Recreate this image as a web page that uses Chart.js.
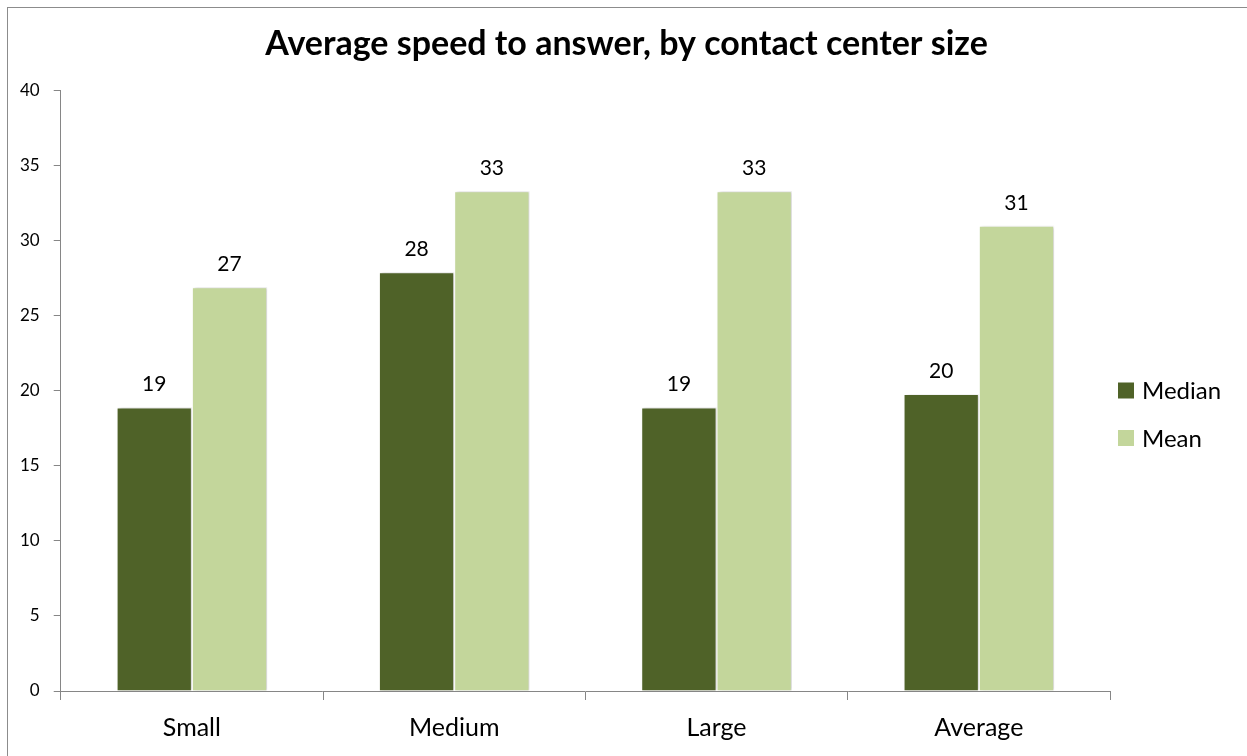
<!DOCTYPE html>
<html>
<head>
<meta charset="utf-8">
<script src="https://cdn.jsdelivr.net/npm/chart.js@4.4.0/dist/chart.umd.min.js"></script>
<style>
  html, body { margin: 0; padding: 0; background: #fff; }
  #wrap { width: 1247px; height: 756px; position: relative; }
</style>
</head>
<body>
<div id="wrap"><canvas id="myChart"></canvas></div>
<script>
// chart data
var categories = ['Small', 'Medium', 'Large', 'Average'];
var seriesNames = ['Median', 'Mean'];
var medianValues = [18.9, 27.9, 18.9, 19.8];
var meanValues = [26.9, 33.3, 33.3, 31.0];
var seriesColors = ['#4F6228', '#C3D69B'];
var chartTitle = 'Average speed to answer, by contact center size';

// white background + grey frame (left and top edges show)
var framePlugin = {
   id: 'frame',
   beforeDraw: function(chart){
      var ctx = chart.ctx;
      ctx.save();
      ctx.fillStyle = '#fff';
      ctx.fillRect(0, 0, chart.width, chart.height);
      ctx.strokeStyle = '#8c8c8c';
      ctx.lineWidth = 1;
      ctx.strokeRect(7.5, 7.5, chart.width + 20, chart.height + 20);
      ctx.restore();
   }
};

// soft shadow to the right of the bars
var shadowPlugin = {
   id: 'barShadow',
   beforeDatasetsDraw: function(chart){
      var ctx = chart.ctx;
      ctx.save();
      ctx.shadowColor = 'rgba(0,0,0,0.2)';
      ctx.shadowBlur = 3;
      ctx.shadowOffsetX = 2;
      ctx.shadowOffsetY = 0;
   },
   afterDatasetsDraw: function(chart){
      chart.ctx.restore();
   }
};

// value labels above every bar
var valueLabelPlugin = {
   id: 'valueLabels',
   afterDatasetsDraw: function(chart){
      var ctx = chart.ctx;
      ctx.save();
      ctx.font = '21px Lato';
      ctx.fillStyle = '#000';
      ctx.textAlign = 'center';
      ctx.textBaseline = 'alphabetic';
      chart.data.datasets.forEach(function(ds, i){
         var meta = chart.getDatasetMeta(i);
         meta.data.forEach(function(bar, j){
            ctx.fillText(Math.round(ds.data[j]), bar.x, bar.y - 16);
         });
      });
      ctx.restore();
   }
};

// legend on the right of the plot area
var sideLegendPlugin = {
   id: 'sideLegend',
   afterDraw: function(chart){
      var ctx = chart.ctx;
      var area = chart.chartArea;
      var x = area.right + 8;
      var y0 = 390.5;
      ctx.save();
      ctx.font = '24px Lato';
      ctx.textBaseline = 'middle';
      ctx.textAlign = 'left';
      chart.data.datasets.forEach(function(ds, i){
         var y = y0 + i * 47.5;
         ctx.fillStyle = ds.backgroundColor;
         ctx.fillRect(x, y - 8, 16, 16);
         ctx.fillStyle = '#000';
         ctx.fillText(ds.label, x + 24, y + 1);
      });
      ctx.restore();
   }
};

var ctx = document.getElementById('myChart').getContext('2d');
var chart = new Chart(ctx, {
   type: 'bar',
   data: {
      labels: categories,
      datasets: [{
         label: seriesNames[0],
         data: medianValues,
         backgroundColor: seriesColors[0],
         borderColor: '#fff',
         borderWidth: 1,
         categoryPercentage: 0.574,
         barPercentage: 1.0
      }, {
         label: seriesNames[1],
         data: meanValues,
         backgroundColor: seriesColors[1],
         borderColor: '#fff',
         borderWidth: 1,
         categoryPercentage: 0.574,
         barPercentage: 1.0
      }]
   },
   options: {
      responsive: true,
      maintainAspectRatio: false,
      animation: false,
      layout: { padding: { left: 6, right: 0, top: 24, bottom: 0 } },
      plugins: {
         legend: { display: false },
         tooltip: { enabled: false },
         title: {
            display: true,
            text: chartTitle,
            color: '#000',
            font: { family: 'Lato', size: 34, weight: 'bold' },
            padding: { top: 0, bottom: 26 }
         }
      },
      scales: {
         x: {
            grid: { display: true, drawOnChartArea: false, offset: true, tickLength: 9, color: '#868686' },
            border: { color: '#868686' },
            ticks: { color: '#000', font: { family: 'Lato', size: 25 }, padding: 13 }
         },
         y: {
            min: 0,
            max: 40,
            ticks: { stepSize: 5, color: '#000', font: { family: 'Lato', size: 17 }, padding: 14 },
            grid: { display: true, drawOnChartArea: false, tickLength: 7, color: '#868686' },
            border: { color: '#868686' }
         },
         // empty scale that keeps room for the legend on the right
         legendSpace: {
            type: 'linear',
            position: 'right',
            display: true,
            ticks: { display: false },
            grid: { display: false },
            border: { display: false },
            afterFit: function(scale){ scale.width = 137; }
         }
      }
   },
   plugins: [framePlugin, shadowPlugin, valueLabelPlugin, sideLegendPlugin]
});
</script>
</body>
</html>
